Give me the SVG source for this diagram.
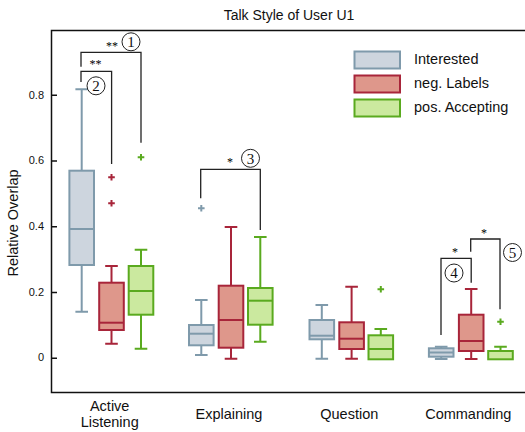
<svg xmlns="http://www.w3.org/2000/svg" width="525" height="432" viewBox="0 0 525 432">
  <style>
    text { font-family: "Liberation Sans", Arial, sans-serif; fill: #111; }
    .title { font-size: 14px; text-anchor: middle; }
    .lbl { font-size: 14.5px; text-anchor: middle; }
    .tick { font-size: 11px; text-anchor: end; }
    .leg { font-size: 14.5px; }
    .axis { stroke: #111; stroke-width: 1.5; fill: none; }
    .box rect { stroke-width: 2; }
    .box line { stroke-width: 2; }
    .box path { stroke-width: 2; fill: none; }
    .i rect { fill: #cdd5de; stroke: #7f9aab; }
    .i line, .i path { stroke: #7f9aab; }
    .n rect { fill: #de978b; stroke: #a8253a; }
    .n line, .n path { stroke: #a8253a; }
    .p rect { fill: #cbe99f; stroke: #5aaa1f; }
    .p line, .p path { stroke: #5aaa1f; }
    .br { stroke: #222; stroke-width: 1.3; fill: none; }
    .num circle { fill: none; stroke: #222; stroke-width: 1; }
    .num text { font-family: "Liberation Serif", "Times New Roman", serif; font-size: 15px; text-anchor: middle; }
    .star { font-family: "Liberation Serif", "Times New Roman", serif; font-size: 12px; text-anchor: middle; fill: #000; }
  </style>

  <text class="title" x="289" y="20">Talk Style of User U1</text>

  <!-- axes -->
  <g id="axes">
    <path class="axis" d="M525 30.5 H51.5 V392.5 H525"/>
    <path class="axis" d="M51.5 95.3 H57 M51.5 161 H57 M51.5 226.7 H57 M51.5 292.4 H57 M51.5 358.2 H57"/>
    <text class="tick" x="44" y="98.5">0.8</text>
    <text class="tick" x="44" y="164.2">0.6</text>
    <text class="tick" x="44" y="229.9">0.4</text>
    <text class="tick" x="44" y="295.6">0.2</text>
    <text class="tick" x="44" y="361.4">0</text>
    <text class="lbl" transform="translate(18 223) rotate(-90)">Relative Overlap</text>
  </g>

  <!-- Active Listening -->
  <g id="al-interested" class="box i">
    <path d="M81.7 170.7 V89.3 M81.7 265 V311.7 M75.4 89.3 H88 M75.4 311.7 H88"/>
    <rect x="69.4" y="170.7" width="24.6" height="94.3"/>
    <line x1="69.4" y1="229" x2="94" y2="229"/>
  </g>
  <g id="al-neg" class="box n">
    <path d="M111.5 282.7 V266 M111.5 330 V343.7 M105.2 266 H117.8 M105.2 343.7 H117.8"/>
    <rect x="99.2" y="282.7" width="24.6" height="47.3"/>
    <line x1="99.2" y1="322.7" x2="123.8" y2="322.7"/>
    <path d="M108.2 177.3 H114.8 M111.5 174 V180.6 M108.2 203.3 H114.8 M111.5 200 V206.6"/>
  </g>
  <g id="al-pos" class="box p">
    <path d="M141 266 V249.7 M141 314.7 V348.7 M134.7 249.7 H147.3 M134.7 348.7 H147.3"/>
    <rect x="128.7" y="266" width="24.6" height="48.7"/>
    <line x1="128.7" y1="291" x2="153.3" y2="291"/>
    <path d="M137.7 157.3 H144.3 M141 154 V160.6"/>
  </g>

  <!-- Explaining -->
  <g id="ex-interested" class="box i">
    <path d="M201.3 325 V300 M201.3 345.3 V355 M195 300 H207.6 M195 355 H207.6"/>
    <rect x="189" y="325" width="24.6" height="20.3"/>
    <line x1="189" y1="333.7" x2="213.6" y2="333.7"/>
    <path d="M198 208.3 H204.6 M201.3 205 V211.6"/>
  </g>
  <g id="ex-neg" class="box n">
    <path d="M231 285.7 V227 M231 347.7 V358.7 M224.7 227 H237.3 M224.7 358.7 H237.3"/>
    <rect x="218.7" y="285.7" width="24.6" height="62"/>
    <line x1="218.7" y1="320" x2="243.3" y2="320"/>
  </g>
  <g id="ex-pos" class="box p">
    <path d="M260.3 288 V237 M260.3 324.7 V341.7 M254 237 H266.6 M254 341.7 H266.6"/>
    <rect x="248" y="288" width="24.6" height="36.7"/>
    <line x1="248" y1="300.7" x2="272.6" y2="300.7"/>
  </g>

  <!-- Question -->
  <g id="qu-interested" class="box i">
    <path d="M321.8 320 V305 M321.8 339.3 V358.7 M315.5 305 H328.1 M315.5 358.7 H328.1"/>
    <rect x="309.5" y="320" width="24.6" height="19.3"/>
    <line x1="309.5" y1="335.7" x2="334.1" y2="335.7"/>
  </g>
  <g id="qu-neg" class="box n">
    <path d="M351.6 322.3 V286.7 M351.6 349 V358.7 M345.3 286.7 H357.9 M345.3 358.7 H357.9"/>
    <rect x="339.3" y="322.3" width="24.6" height="26.7"/>
    <line x1="339.3" y1="338.7" x2="363.9" y2="338.7"/>
  </g>
  <g id="qu-pos" class="box p">
    <path d="M380.8 335.3 V329 M374.5 329 H387.1"/>
    <rect x="368.5" y="335.3" width="24.6" height="24"/>
    <line x1="368.5" y1="349" x2="393.1" y2="349"/>
    <path d="M377.5 289.3 H384.1 M380.8 286 V292.6"/>
  </g>

  <!-- Commanding -->
  <g id="co-interested" class="box i">
    <path d="M441.2 348.3 V346.7 M441.2 356.7 V359 M434.9 346.7 H447.5 M434.9 359 H447.5"/>
    <rect x="428.9" y="348.3" width="24.6" height="8.4"/>
    <line x1="428.9" y1="352.5" x2="453.5" y2="352.5"/>
  </g>
  <g id="co-neg" class="box n">
    <path d="M471.2 314.7 V289 M471.2 351 V359 M464.9 289 H477.5 M464.9 359 H477.5"/>
    <rect x="458.9" y="314.7" width="24.6" height="36.3"/>
    <line x1="458.9" y1="341" x2="483.5" y2="341"/>
  </g>
  <g id="co-pos" class="box p">
    <path d="M500.5 351 V346.7 M494.2 346.7 H506.8"/>
    <rect x="488.2" y="351" width="24.6" height="8.3"/>
    <path d="M497.2 321.7 H503.8 M500.5 318.4 V325"/>
  </g>

  <!-- significance brackets -->
  <g id="connectors">
    <path class="br" d="M81 66.7 V52.3 H141 V142.7"/>
    <path class="br" d="M81 82 V71.3 H111.6 V164"/>
    <path class="br" d="M200.7 198.3 V169.3 H260.3 V230"/>
    <path class="br" d="M441 335 V258.3 H471.2 V282.7"/>
    <path class="br" d="M470.7 251.7 V239 H500 V309.3"/>
  </g>

  <g id="marks">
    <text class="star" x="112" y="50">**</text>
    <text class="star" x="95.5" y="67.5">**</text>
    <text class="star" x="230" y="165.5">*</text>
    <text class="star" x="455" y="256">*</text>
    <text class="star" x="484" y="237">*</text>
    <g id="c1" class="num"><circle cx="131" cy="41.8" r="9"/><text x="131" y="47">1</text></g>
    <g id="c2" class="num"><circle cx="96" cy="85.8" r="9"/><text x="96" y="91">2</text></g>
    <g id="c3" class="num"><circle cx="250.5" cy="158.3" r="9"/><text x="250.5" y="163.5">3</text></g>
    <g id="c4" class="num"><circle cx="454" cy="273" r="9"/><text x="454" y="278.2">4</text></g>
    <g id="c5" class="num"><circle cx="512.5" cy="252.5" r="9"/><text x="512.5" y="257.7">5</text></g>
  </g>

  <!-- legend -->
  <g id="legend">
    <g class="box i"><rect x="354.5" y="51.5" width="45.5" height="17"/></g>
    <g class="box n"><rect x="354.5" y="75.5" width="45.5" height="17"/></g>
    <g class="box p"><rect x="354.5" y="99.5" width="45.5" height="17"/></g>
    <text class="leg" x="414" y="64.3">Interested</text>
    <text class="leg" x="414" y="88">neg. Labels</text>
    <text class="leg" x="414" y="112">pos. Accepting</text>
  </g>

  <!-- category labels -->
  <g id="xlabels">
    <text class="lbl" x="109.7" y="411">Active</text>
    <text class="lbl" x="109.7" y="427.3">Listening</text>
    <text class="lbl" x="229" y="419">Explaining</text>
    <text class="lbl" x="349.3" y="419">Question</text>
    <text class="lbl" x="468.3" y="419">Commanding</text>
  </g>
</svg>
